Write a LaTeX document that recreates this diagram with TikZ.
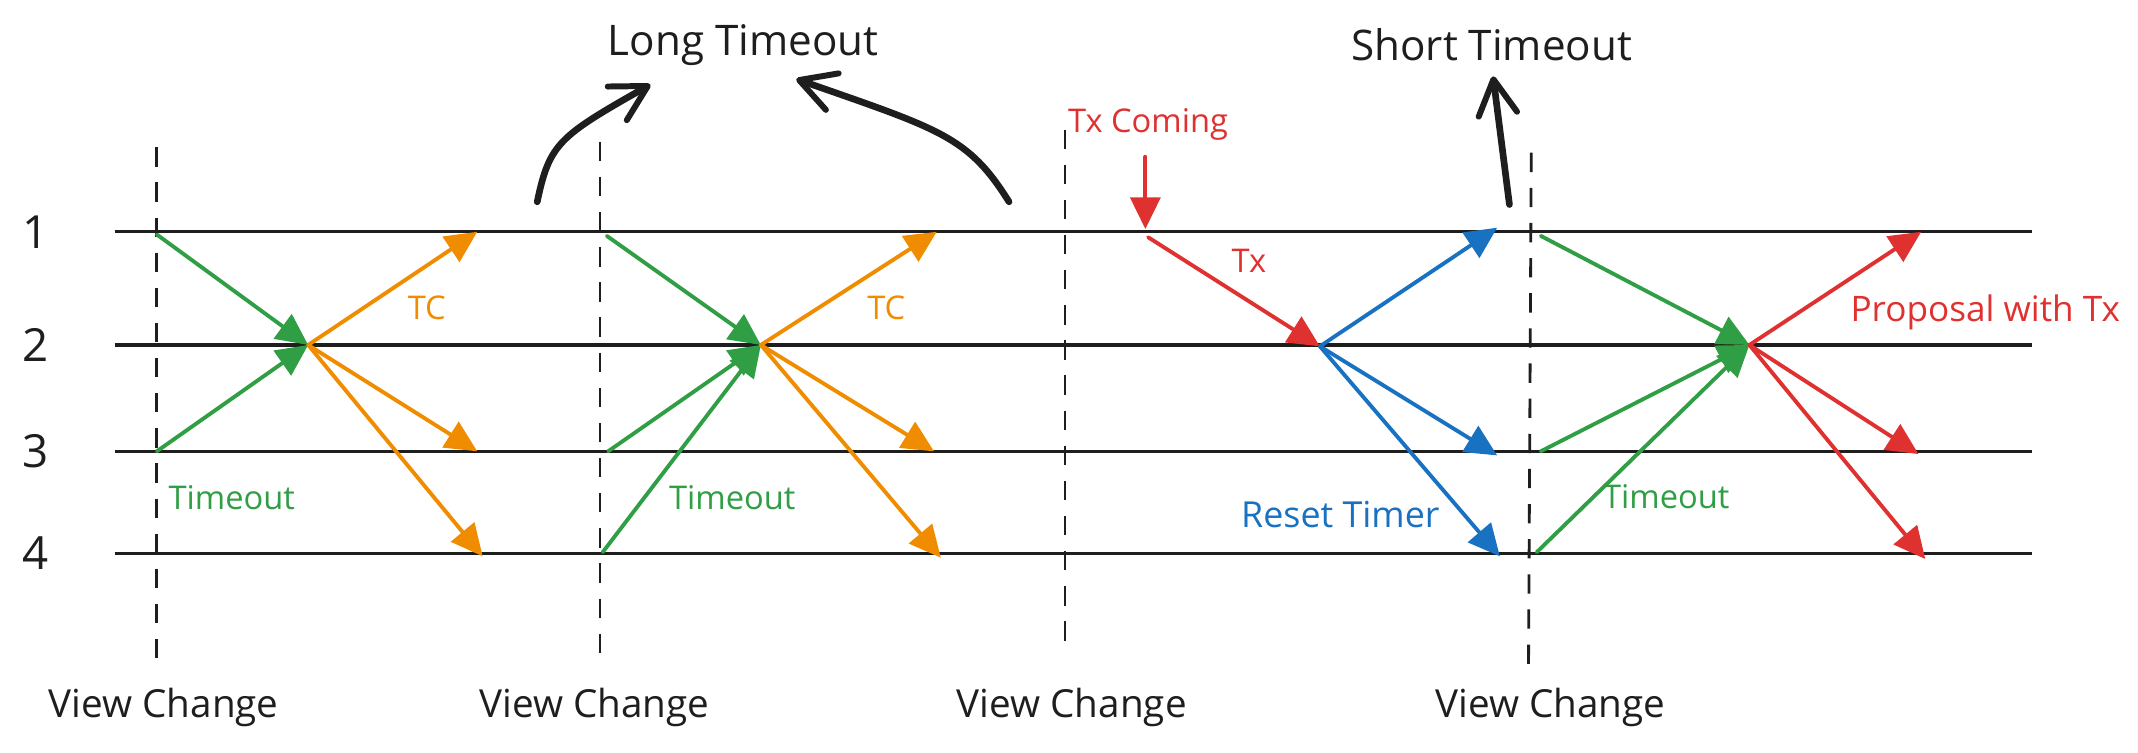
\documentclass[tikz,border=0pt]{standalone}
\usepackage{fontspec}
\setmainfont{Open Sans}
\usetikzlibrary{arrows.meta}
\definecolor{xgreen}{HTML}{2F9E44}
\definecolor{xorange}{HTML}{F08C00}
\definecolor{xred}{HTML}{E03131}
\definecolor{xblue}{HTML}{1971C2}
\definecolor{xink}{HTML}{1E1E1E}
\begin{document}
\begin{tikzpicture}[x=0.013635cm,y=-0.013635cm,
  lane/.style={line width=0.9pt, draw=xink},
  vcline/.style={line width=0.8pt, draw=xink, dash pattern=on 5.5pt off 4.5pt},
  msg/.style={line width=1.1pt, line cap=round, -{Triangle[length=9pt,width=8.5pt]}},
  bigarrow/.style={line width=1.9pt, line cap=round, draw=xink, -{Straight Barb[length=10pt,width=11pt,line width=1.7pt,round]}},
  lanelbl/.style={font=\fontsize{13}{15}\selectfont, text=xink, inner sep=0pt},
  vclbl/.style={font=\fontsize{11}{13}\selectfont, text=xink, inner sep=0pt},
  titlelbl/.style={font=\fontsize{12}{14}\selectfont, text=xink, inner sep=0pt},
  smalllbl/.style={font=\fontsize{9.3}{11}\selectfont, inner sep=0pt},
]
\useasboundingbox (0,0) rectangle (1568,552);

% lanes
\foreach \i/\y in {1/170,2/253,3/331,4/406}{
  \coordinate (l\i s) at (84,\y);
  \coordinate (l\i e) at (1490,\y);
  \draw[lane] (l\i s) -- (l\i e);
  \node[lanelbl] (n\i) at (26,\y) {\i};
}

% view change dashed lines
\coordinate (d1t) at (115,108); \coordinate (d1b) at (115,489);
\coordinate (d2t) at (440,104); \coordinate (d2b) at (440,489);
\coordinate (d3t) at (781,95);  \coordinate (d3b) at (781,471);
\coordinate (d4t) at (1123,112); \coordinate (d4b) at (1121,489);
\foreach \k in {1,2,3,4}{ \draw[vcline] (d\k t) -- (d\k b); }
\node[vclbl] (vc1) at (120,519) {View Change};
\node[vclbl] (vc2) at (436,519) {View Change};
\node[vclbl] (vc3) at (786,519) {View Change};
\node[vclbl] (vc4) at (1137,519) {View Change};

% titles
\node[titlelbl] (lt) at (545,33) {Long Timeout};
\node[titlelbl] (st) at (1094,33) {Short Timeout};
\coordinate (lta) at (394,148);
\coordinate (ltb) at (477,62);
\coordinate (ltc) at (740,148);
\coordinate (ltd) at (584,58);
\draw[bigarrow] (lta) .. controls (403,105) and (410,100) .. (ltb);
\draw[bigarrow] (ltc) .. controls (710,100) and (690,95) .. (ltd);
\coordinate (sta) at (1107,150);
\coordinate (stb) at (1095,56);
\draw[bigarrow] (sta) -- (stb);

% section 1
\coordinate (a1) at (115,172); \coordinate (a3) at (115,331);
\coordinate (ax) at (226,253);
\coordinate (ao1) at (350,170); \coordinate (ao3) at (350,331); \coordinate (ao4) at (354,408);
\draw[msg, xgreen] (a1) -- (ax);
\draw[msg, xgreen] (a3) -- (ax);
\draw[msg, xorange] (ax) -- (ao1);
\draw[msg, xorange] (ax) -- (ao3);
\draw[msg, xorange] (ax) -- (ao4);
\node[smalllbl, text=xorange] (tc1) at (313,226) {TC};
\node[smalllbl, text=xgreen] (to1) at (170,365) {Timeout};

% section 2
\coordinate (b1) at (445,173); \coordinate (b3) at (446,331); \coordinate (b4) at (442,405);
\coordinate (bx) at (558,253);
\coordinate (bo1) at (687,170); \coordinate (bo3) at (685,331); \coordinate (bo4) at (690,409);
\draw[msg, xgreen] (b1) -- (bx);
\draw[msg, xgreen] (b3) -- (bx);
\draw[msg, xgreen] (b4) -- (bx);
\draw[msg, xorange] (bx) -- (bo1);
\draw[msg, xorange] (bx) -- (bo3);
\draw[msg, xorange] (bx) -- (bo4);
\node[smalllbl, text=xorange] (tc2) at (650,226) {TC};
\node[smalllbl, text=xgreen] (to2) at (537,365) {Timeout};

% section 3
\node[smalllbl, text=xred] (txc) at (842,91) {Tx Coming};
\coordinate (ra) at (840,115);
\coordinate (rb) at (840,168);
\draw[msg, xred] (ra) -- (rb);
\coordinate (rc) at (842,174);
\coordinate (cx) at (968,254);
\draw[msg, xred] (rc) -- (cx);
\node[smalllbl, text=xred] (txl) at (916,191) {Tx};
\coordinate (co1) at (1098,167); \coordinate (co3) at (1098,334); \coordinate (co4) at (1100,408);
\draw[msg, xblue] (cx) -- (co1);
\draw[msg, xblue] (cx) -- (co3);
\draw[msg, xblue] (cx) -- (co4);
\node[smalllbl, text=xblue, font=\fontsize{10.2}{12}\selectfont] (rt) at (983,377) {Reset Timer};

% section 4
\coordinate (e1) at (1130,173); \coordinate (e3) at (1130,331); \coordinate (e4) at (1127,405);
\coordinate (ex) at (1283,253);
\coordinate (eo1) at (1409,170); \coordinate (eo3) at (1407,333); \coordinate (eo4) at (1412,410);
\draw[msg, xgreen] (e1) -- (ex);
\draw[msg, xgreen] (e3) -- (ex);
\draw[msg, xgreen] (e4) -- (ex);
\draw[msg, xred] (ex) -- (eo1);
\draw[msg, xred] (ex) -- (eo3);
\draw[msg, xred] (ex) -- (eo4);
\node[smalllbl, text=xred, font=\fontsize{10}{12}\selectfont] (pwt) at (1456,229) {Proposal with Tx};
\node[smalllbl, text=xgreen] (to4) at (1222,364) {Timeout};
\end{tikzpicture}
\end{document}
